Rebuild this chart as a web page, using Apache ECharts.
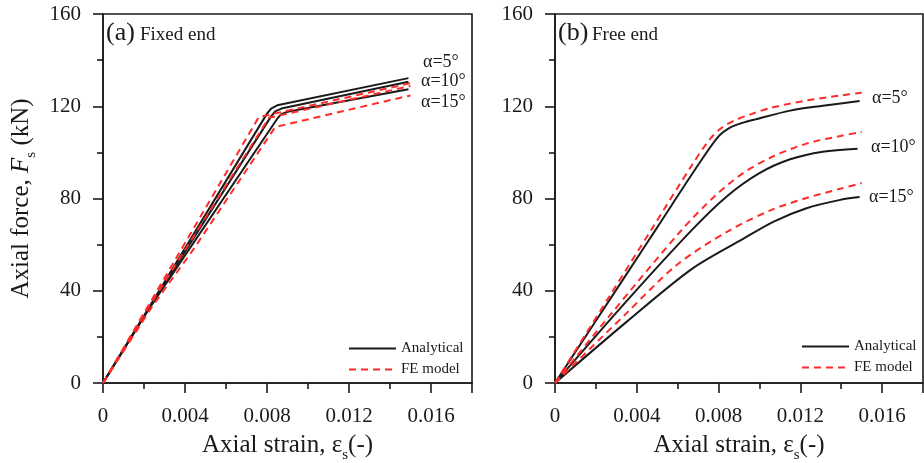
<!DOCTYPE html>
<html>
<head>
<meta charset="utf-8">
<script src="https://cdn.jsdelivr.net/npm/echarts@6/dist/echarts.min.js"></script>
<style>
  html, body { margin: 0; padding: 0; background: #fff; }
  #chart { width: 924px; height: 463px; }
</style>
</head>
<body>
<div id="chart"></div>
<script>
// Axial force vs axial strain: analytical model vs FE model, for three inclination angles.

// Axis ticks
const strainTicks = [0, 0.004, 0.008, 0.012, 0.016];
const forceTicks = [0, 40, 80, 120, 160];
const angleLabels = ['α=5°', 'α=10°', 'α=15°'];

// (a) Fixed end — [strain, force kN]
const fixedAnalytical5  = [[0,0],[0.0080,116.8],[0.0082,119.0],[0.0085,120.4],[0.0149,132.2]];
const fixedAnalytical10 = [[0,0],[0.0022,31.8],[0.0082,115.6],[0.0084,117.8],[0.0087,119.0],[0.0149,130.6]];
const fixedAnalytical15 = [[0,0],[0.0022,31.6],[0.0085,114.6],[0.0087,116.6],[0.0090,117.6],[0.0149,127.4]];
const fixedFE5  = [[0,0],[0.0076,115.3],[0.0150,130.0]];
const fixedFE10 = [[0,0],[0.0022,32.5],[0.0081,115.0],[0.0150,128.8]];
const fixedFE15 = [[0,0],[0.0024,33.2],[0.0044,57.8],[0.0084,111.0],[0.0150,124.7]];

// (b) Free end — [strain, force kN]
const freeAnalytical5  = [[0,0],[0.0035,47.2],[0.0050,67.5],[0.0070,94.5],[0.0080,106.9],[0.0086,110.9],[0.0091,112.6],[0.0098,114.3],[0.0115,118.1],[0.0131,120.2],[0.0149,122.3]];
const freeAnalytical10 = [[0,0],[0.0035,35.5],[0.0067,66.4],[0.0084,80.9],[0.0100,91.0],[0.0115,97.0],[0.0131,100.3],[0.0148,101.6]];
const freeAnalytical15 = [[0,0],[0.0035,26.5],[0.0067,49.5],[0.0092,62.5],[0.0107,70.0],[0.0123,75.8],[0.0139,79.3],[0.0149,80.6]];
const freeFE5  = [[0,0],[0.0027,38.1],[0.0047,66.3],[0.0067,94.5],[0.0076,106.0],[0.0082,111.0],[0.0088,113.9],[0.0096,116.6],[0.0106,119.4],[0.0123,122.5],[0.0139,124.6],[0.0150,125.9]];
const freeFE10 = [[0,0],[0.0027,29.5],[0.0062,66.4],[0.0078,80.9],[0.0092,91.0],[0.0106,98.0],[0.0123,103.8],[0.0139,107.0],[0.0150,108.8]];
const freeFE15 = [[0,0],[0.0035,30.3],[0.0060,51.5],[0.0085,66.0],[0.0106,75.1],[0.0123,80.2],[0.0139,84.1],[0.0150,86.7]];

const SERIF = "'Liberation Serif', 'Times New Roman', serif";
const INK = '#1a1a1a';
const RED = '#ff2a2a';

const chart = echarts.init(document.getElementById('chart'), null, { renderer: 'canvas' });

function xAxisFor(gridIndex) {
  return {
    type: 'value', gridIndex: gridIndex,
    min: strainTicks[0], max: 0.018, interval: strainTicks[1] - strainTicks[0],
    name: '{n|Axial strain, ε}{s|s}{n|(-)}',
    nameLocation: 'middle', nameGap: 50,
    nameTextStyle: {
      rich: {
        n: { fontFamily: SERIF, fontSize: 25, color: INK, verticalAlign: 'bottom', padding: [0, 0, 5, 0] },
        s: { fontFamily: SERIF, fontSize: 15, color: INK, verticalAlign: 'bottom' }
      }
    },
    axisLine: { show: true, onZero: false, lineStyle: { color: INK, width: 1.6 } },
    axisTick: { show: true, length: 10, lineStyle: { color: INK, width: 1.6 } },
    minorTick: { show: true, splitNumber: 2, length: 6, lineStyle: { color: INK, width: 1.6 } },
    axisLabel: {
      showMaxLabel: false, margin: 23,
      fontFamily: SERIF, fontSize: 21, color: INK,
      formatter: function (v) { return v === 0 ? '0' : v.toFixed(3); }
    },
    splitLine: { show: false }
  };
}

function yAxisFor(gridIndex) {
  return {
    type: 'value', gridIndex: gridIndex,
    min: forceTicks[0], max: forceTicks[forceTicks.length - 1], interval: forceTicks[1] - forceTicks[0],
    name: gridIndex === 0 ? '{n|Axial force, }{i|F}{s|s}{n| (kN)}' : '',
    nameLocation: 'middle', nameGap: 64,
    nameTextStyle: {
      rich: {
        n: { fontFamily: SERIF, fontSize: 25, color: INK, verticalAlign: 'bottom', padding: [0, 0, 5, 0] },
        i: { fontFamily: SERIF, fontSize: 25, fontStyle: 'italic', color: INK, verticalAlign: 'bottom', padding: [0, 0, 5, 0] },
        s: { fontFamily: SERIF, fontSize: 15, color: INK, verticalAlign: 'bottom' }
      }
    },
    axisLine: { show: true, onZero: false, lineStyle: { color: INK, width: 1.6 } },
    axisTick: { show: true, length: 10, lineStyle: { color: INK, width: 1.6 } },
    minorTick: { show: true, splitNumber: 2, length: 6, lineStyle: { color: INK, width: 1.6 } },
    axisLabel: { margin: 22, fontFamily: SERIF, fontSize: 21, color: INK },
    splitLine: { show: false }
  };
}

function curve(name, data, idx, dashed, smooth) {
  return {
    type: 'line', name: name, data: data,
    xAxisIndex: idx, yAxisIndex: idx,
    symbol: 'none', smooth: smooth ? 0.3 : false,
    color: dashed ? RED : INK,
    lineStyle: dashed
      ? { color: RED, width: 2, type: [7, 5] }
      : { color: INK, width: 2 },
    z: dashed ? 3 : 2
  };
}

function legendAt(left, top) {
  return {
    data: ['Analytical', 'FE model'],
    orient: 'vertical', left: left, top: top,
    padding: 0, itemGap: 6, itemWidth: 47, itemHeight: 14,
    selectedMode: false,
    itemStyle: { opacity: 0 },
    textStyle: { fontFamily: SERIF, fontSize: 15, color: INK }
  };
}

function label(text, x, y, size) {
  return {
    type: 'text', x: x, y: y,
    style: { text: text, font: size + 'px ' + SERIF, fill: INK, verticalAlign: 'middle', align: 'left' }
  };
}

const gridBase = {
  top: 14, height: 369, show: true, containLabel: false, outerBoundsMode: 'none',
  borderColor: INK, borderWidth: 1.6, backgroundColor: 'transparent'
};

const option = {
  animation: false,
  backgroundColor: '#fff',
  grid: [
    Object.assign({}, gridBase, { left: 103, width: 369 }),
    Object.assign({}, gridBase, { left: 555, width: 368 })
  ],
  xAxis: [xAxisFor(0), xAxisFor(1)],
  yAxis: [yAxisFor(0), yAxisFor(1)],
  legend: [legendAt(348, 341), legendAt(801, 339)],
  series: [
    curve('Analytical', fixedAnalytical5, 0, false, false),
    curve('Analytical', fixedAnalytical10, 0, false, false),
    curve('Analytical', fixedAnalytical15, 0, false, false),
    curve('FE model', fixedFE5, 0, true, false),
    curve('FE model', fixedFE10, 0, true, false),
    curve('FE model', fixedFE15, 0, true, false),
    curve('Analytical', freeAnalytical5, 1, false, true),
    curve('Analytical', freeAnalytical10, 1, false, true),
    curve('Analytical', freeAnalytical15, 1, false, true),
    curve('FE model', freeFE5, 1, true, true),
    curve('FE model', freeFE10, 1, true, true),
    curve('FE model', freeFE15, 1, true, true)
  ],
  graphic: [
    label('(a)', 106, 33, 26),
    label('Fixed end', 140, 35, 19),
    label('(b)', 558, 33, 26),
    label('Free end', 592, 35, 19),
    label(angleLabels[0], 423, 62, 18),
    label(angleLabels[1], 421, 81, 18),
    label(angleLabels[2], 421, 102, 18),
    label(angleLabels[0], 872, 98, 18),
    label(angleLabels[1], 871, 147, 18),
    label(angleLabels[2], 869, 197, 18)
  ]
};

chart.setOption(option);
</script>
</body>
</html>
